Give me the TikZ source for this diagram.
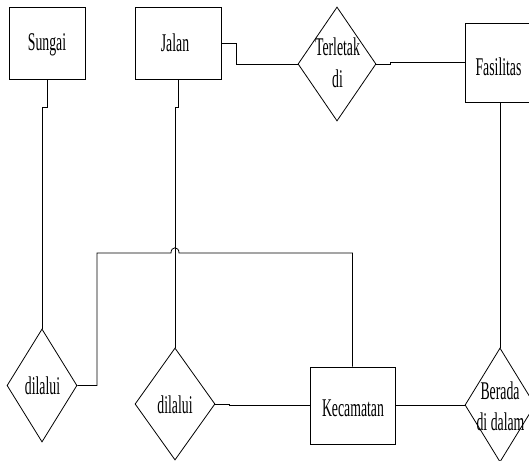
\documentclass[tikz,border=0pt]{standalone}
\usepackage{fontspec}
\setmainfont[FakeStretch=0.54]{Liberation Serif}
\usetikzlibrary{shapes.geometric}
\begin{document}
\begin{tikzpicture}[x=1pt,y=-1pt,
  ent/.style={draw, line width=0.8pt, rectangle, inner sep=0pt},
  rel/.style={draw, line width=0.8pt, diamond, inner sep=0pt},
  lbl/.style={font=\fontsize{25.5}{31}\selectfont, inner sep=0pt, anchor=base},
  conn/.style={line width=0.8pt}]
\useasboundingbox (0,0) rectangle (529,460);
% entities and relations
\node[ent, minimum width=76, minimum height=72] (sungai) at (47,43) {};
\node[ent, minimum width=86, minimum height=72] (jalan) at (178,43) {};
\node[rel, minimum width=78, minimum height=114] (terletak) at (337,64) {};
\node[ent, minimum width=68, minimum height=79] (fas) at (499,62.5) {};
\node[rel, minimum width=70, minimum height=113] (d1) at (42,385.5) {};
\node[rel, minimum width=80, minimum height=112] (d2) at (175,404) {};
\node[ent, minimum width=85, minimum height=77] (kec) at (352.5,405.5) {};
\node[rel, minimum width=70, minimum height=114] (berada) at (500,405) {};
% labels
\node[lbl] (sungaiT) at (47,50.7) {Sungai};
\node[lbl] (jalanT) at (175,51.5) {Jalan};
\node[lbl] (terletakT1) at (337.5,56) {Terletak};
\node[lbl] (terletakT2) at (337.5,87) {di};
\node[lbl] (fasT) at (498.5,75) {Fasilitas};
\node[lbl] (kecT) at (353,416) {Kecamatan};
\node[lbl] (d1T) at (42.5,394) {dilalui};
\node[lbl] (d2T) at (175,413) {dilalui};
\node[lbl] (beradaT1) at (500,399) {Berada};
\node[lbl] (beradaT2) at (500.5,430) {di dalam};
% helper coordinates
\coordinate (hopR) at (179,253);
\coordinate (hopL) at (171,253);
\coordinate (elbow) at (97,253);
% connectors
\draw[conn] (sungai.south) -- ++(0,28) -| (d1.north);
\draw[conn] (jalan.south) -- ++(0,28) -| (d2.north);
\draw[conn] (jalan.east) -- ++(15,0) |- (terletak.west);
\draw[conn] (terletak.east) -- ++(14,0) |- (fas.west);
\draw[conn] (fas.south -| berada.north) -- (berada.north);
\draw[conn] (d2.east) -- ++(14,0) |- (kec.west);
\draw[conn] (kec.east) -- ++(55,0) |- (berada.west);
\draw[conn] (kec.north) |- (hopR) .. controls (179,246) and (171,246) .. (hopL) -- (elbow) |- (d1.east);
\end{tikzpicture}
\end{document}
